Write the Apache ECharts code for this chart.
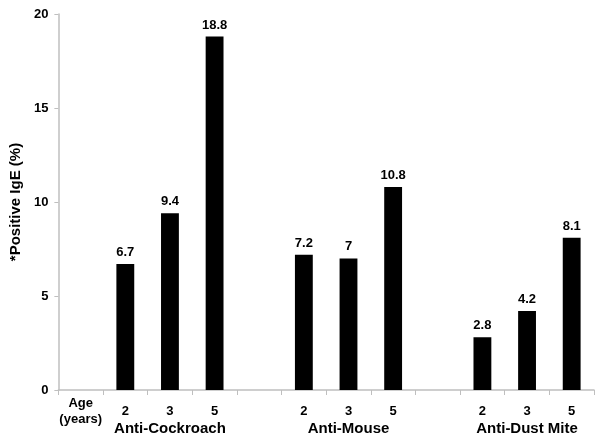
<!DOCTYPE html>
<html>
<head>
<meta charset="utf-8">
<script src="https://cdn.jsdelivr.net/npm/echarts@6/dist/echarts.min.js"></script>
<style>
html,body{margin:0;padding:0;background:#fff;}
#chart{width:600px;height:443px;}
</style>
</head>
<body>
<div id="chart"></div>
<script>
// Data
var categories = ['Age\n(years)', '2', '3', '5', '', '2', '3', '5', '', '2', '3', '5'];
var groupLabels = ['', '', 'Anti-Cockroach', '', '', '', 'Anti-Mouse', '', '', '', 'Anti-Dust Mite', ''];
var values = [null, 6.7, 9.4, 18.8, null, 7.2, 7, 10.8, null, 2.8, 4.2, 8.1];
var yTicks = [0, 5, 10, 15, 20];
var yTitle = '*Positive IgE (%)';

var font = 'Liberation Sans, Arial, sans-serif';
var axisGray = '#bfbfbf';

var chart = echarts.init(document.getElementById('chart'), null, {renderer: 'canvas'});
chart.setOption({
  animation: false,
  backgroundColor: '#fff',
  grid: {left: 52, right: 6, top: 14, bottom: 53, containLabel: false},
  xAxis: [{
    type: 'category',
    data: categories,
    position: 'bottom',
    axisLine: {lineStyle: {color: axisGray, width: 1.5}},
    axisTick: {show: true, length: 5, lineStyle: {color: axisGray}},
    axisLabel: {
      interval: 0, margin: 21, verticalAlign: 'middle',
      color: '#000', fontWeight: 'bold', fontSize: 13, fontFamily: font, lineHeight: 16
    },
    splitLine: {show: false}
  }, {
    type: 'category',
    data: groupLabels,
    position: 'bottom',
    axisLine: {show: false},
    axisTick: {show: false},
    axisLabel: {
      interval: 0, margin: 39, verticalAlign: 'middle',
      color: '#000', fontWeight: 'bold', fontSize: 15, fontFamily: font
    },
    splitLine: {show: false}
  }],
  yAxis: {
    type: 'value',
    min: yTicks[0], max: yTicks[yTicks.length - 1], interval: 5,
    name: yTitle,
    nameLocation: 'middle',
    nameGap: 34,
    nameRotate: 90,
    nameTextStyle: {color: '#000', fontWeight: 'bold', fontSize: 15, fontFamily: font},
    axisLine: {show: true, lineStyle: {color: axisGray, width: 1.5}},
    axisTick: {show: true, length: 4, lineStyle: {color: axisGray}},
    axisLabel: {color: '#000', fontWeight: 'bold', fontSize: 13, fontFamily: font, margin: 10},
    splitLine: {show: false}
  },
  series: [{
    type: 'bar',
    xAxisIndex: 0,
    data: values,
    barWidth: '40%',
    itemStyle: {color: '#000'},
    label: {
      show: true, position: 'top', distance: 5,
      color: '#000', fontWeight: 'bold', fontSize: 13, fontFamily: font
    }
  }]
});
</script>
</body>
</html>
